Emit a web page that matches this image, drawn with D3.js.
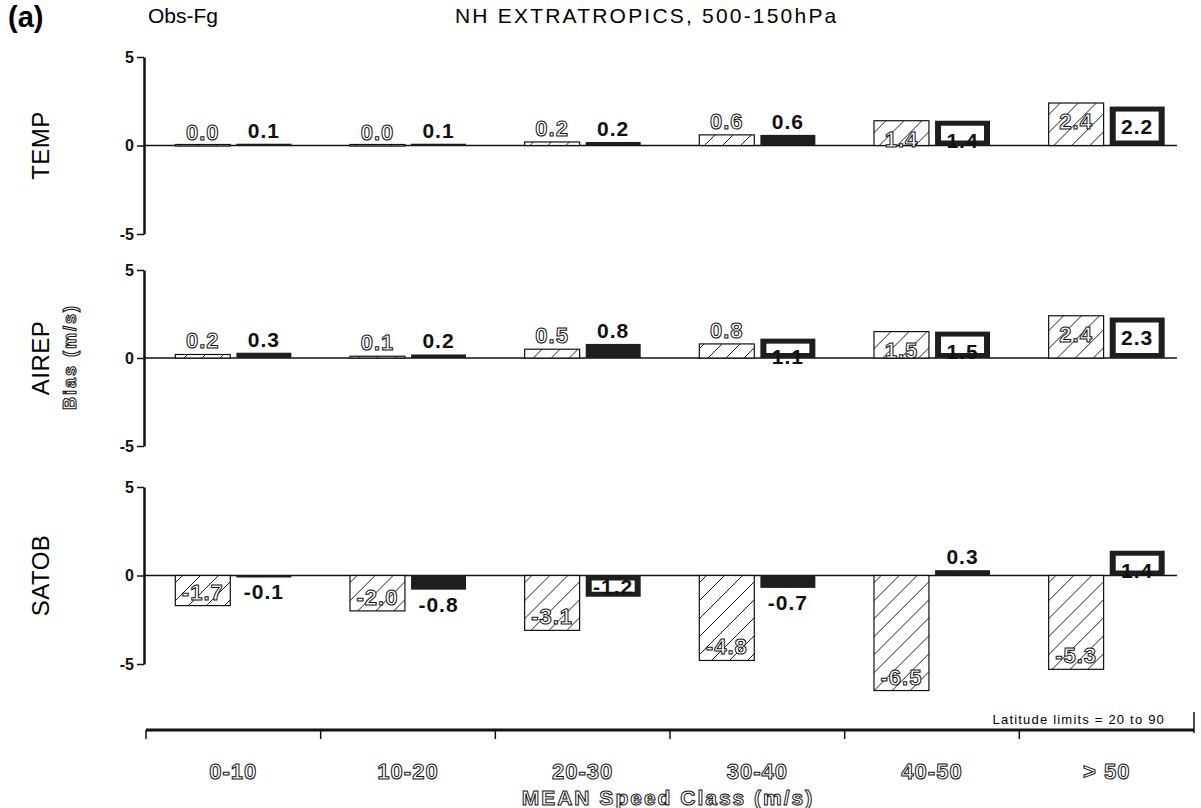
<!DOCTYPE html>
<html>
<head>
<meta charset="utf-8">
<script src="https://cdnjs.cloudflare.com/ajax/libs/d3/7.8.5/d3.min.js"></script>
<style>
    body { margin: 0; background: #fff; }
    text { font-family: 'Liberation Sans', Arial, sans-serif; }
    .hollow { fill: #fff; stroke: #111; stroke-width: 1; font-weight: bold; }
    .axis path, .axis line { stroke: #111; }
</style>
</head>
<body>
<div id="chart"></div>
<script>
// speed classes along the bottom
let categories = ['0-10', '10-20', '20-30', '30-40', '40-50', '> 50']
let panels = ['TEMP', 'AIREP', 'SATOB']

// hatched bars (first experiment) and dark bars (second experiment)
let tempHatched = [0.0, 0.0, 0.2, 0.6, 1.4, 2.4]
let tempDark = [0.1, 0.1, 0.2, 0.6, 1.4, 2.2]
let airepHatched = [0.2, 0.1, 0.5, 0.8, 1.5, 2.4]
let airepDark = [0.3, 0.2, 0.8, 1.1, 1.5, 2.3]
let satobHatched = [-1.7, -2.0, -3.1, -4.8, -6.5, -5.3]
let satobDark = [-0.1, -0.8, -1.2, -0.7, 0.3, 1.4]

let yTicks = [-5, 0, 5]

let hatchedSeries = [tempHatched, airepHatched, satobHatched]
let darkSeries = [tempDark, airepDark, satobDark]

let svgWidth = 1201
let svgHeight = 808
let axisX = 144
let zeroEnd = 1177
let panelY = [[57, 234], [270, 446], [487, 664]]
let bottomY = 730

let svg = d3.select('#chart')
    .append('svg')
    .attr('width', svgWidth)
    .attr('height', svgHeight)

let defs = svg.append('defs')
let pat = defs.append('pattern')
    .attr('id', 'hatch')
    .attr('patternUnits', 'userSpaceOnUse')
    .attr('width', 18)
    .attr('height', 18)
pat.append('rect').attr('width', 18).attr('height', 18).attr('fill', '#fff')
pat.append('path')
    .attr('d', 'M0,18 L18,0 M-4,4 L4,-4 M14,22 L22,14')
    .attr('stroke', '#222')
    .attr('stroke-width', 1)

let x = d3.scaleBand()
    .domain(categories)
    .range([146, 1194])

let sub = d3.scaleBand()
    .domain(['h', 'd'])
    .range([0, x.bandwidth()])
    .paddingInner(0.1)
    .paddingOuter(0.48)

// header
svg.append('text').attr('x', 8).attr('y', 27)
    .attr('font-size', 29).attr('font-weight', 'bold').text('(a)')
svg.append('text').attr('x', 148).attr('y', 23)
    .attr('font-size', 21).text('Obs-Fg')
svg.append('text').attr('x', 455).attr('y', 23)
    .attr('font-size', 21).attr('letter-spacing', 2.2)
    .text('NH EXTRATROPICS, 500-150hPa')

svg.append('text')
    .attr('class', 'hollow')
    .attr('transform', 'translate(76, 357) rotate(-90)')
    .attr('text-anchor', 'middle')
    .attr('font-size', 18)
    .attr('letter-spacing', 2)
    .text('Bias (m/s)')

panels.forEach((name, p) => {

    let y = d3.scaleLinear()
        .domain([-5, 5])
        .range([panelY[p][1], panelY[p][0]])

    let g = svg.append('g')

    g.append('text')
        .attr('transform', `translate(49, ${y(0)}) rotate(-90)`)
        .attr('text-anchor', 'middle')
        .attr('font-size', 24)
        .attr('letter-spacing', 0.5)
        .text(name)

    let yAxis = g.append('g')
        .classed('axis', true)
        .attr('transform', `translate(${axisX}, 0)`)
        .call(d3.axisLeft(y).tickValues(yTicks).tickSize(7).tickSizeOuter(0).tickFormat(d => String(d)))
    yAxis.select('.domain').attr('stroke-width', 2.5)
    yAxis.selectAll('.tick line').attr('stroke-width', 1.5)
    yAxis.selectAll('.tick text')
        .attr('font-size', 16)
        .attr('font-weight', 'bold')
        .attr('fill', '#111')
        .attr('font-family', "'Liberation Sans', Arial, sans-serif")

    g.append('line')
        .attr('x1', axisX).attr('x2', zeroEnd)
        .attr('y1', y(0)).attr('y2', y(0))
        .attr('stroke', '#111').attr('stroke-width', 1.5)

    let rows = categories.map((c, i) => ({ cat: c, h: hatchedSeries[p][i], d: darkSeries[p][i] }))

    let grp = g.selectAll('.grp')
        .data(rows)
        .enter()
        .append('g')
        .attr('transform', d => `translate(${x(d.cat)}, 0)`)

    // hatched bars
    grp.append('rect')
        .attr('x', sub('h'))
        .attr('width', sub.bandwidth())
        .attr('y', d => Math.min(y(d.h), y(0)) - (d.h === 0 ? 1 : 0))
        .attr('height', d => Math.max(Math.abs(y(d.h) - y(0)), 1.5))
        .attr('fill', 'url(#hatch)')
        .attr('stroke', '#111')
        .attr('stroke-width', 1.2)

    grp.append('text')
        .attr('class', 'hollow')
        .attr('x', sub('h') + sub.bandwidth() / 2)
        .attr('y', d => {
            if (d.h < 0) return y(d.h) - 6
            if (d.h >= 1.3) return Math.min(y(0) + 4, y(d.h) + 26)
            return y(d.h) - 6
        })
        .attr('text-anchor', 'middle')
        .attr('font-size', 22)
        .attr('letter-spacing', 1)
        .text(d => d.h.toFixed(1))

    // dark bars
    grp.append('rect')
        .attr('x', sub('d'))
        .attr('width', sub.bandwidth())
        .attr('y', d => Math.min(y(d.d), y(0)))
        .attr('height', d => Math.max(Math.abs(y(d.d) - y(0)), 2))
        .attr('fill', '#1e1e1e')

    let boxed = grp.filter(d => Math.abs(d.d) >= 1)
    boxed.append('rect')
        .attr('x', sub('d') + 6)
        .attr('width', sub.bandwidth() - 12)
        .attr('y', d => Math.min(y(d.d), y(0)) + 5)
        .attr('height', d => Math.abs(y(d.d) - y(0)) - 10)
        .attr('fill', '#fff')

    grp.append('text')
        .attr('x', sub('d') + sub.bandwidth() / 2)
        .attr('y', d => {
            if (Math.abs(d.d) >= 1) {
                return d.d > 0 ? Math.min(y(0) + 6, y(d.d) + 27) : y(d.d) - 3
            }
            return d.d >= 0 ? y(d.d) - 6 : y(d.d) + 22
        })
        .attr('text-anchor', 'middle')
        .attr('font-size', 21)
        .attr('font-weight', 'bold')
        .attr('letter-spacing', 1)
        .attr('fill', '#111')
        .text(d => d.d.toFixed(1))
})

// bottom speed class axis
let bottom = svg.append('g')

bottom.append('line')
    .attr('x1', x.range()[0]).attr('x2', x.range()[1])
    .attr('y1', bottomY).attr('y2', bottomY)
    .attr('stroke', '#111').attr('stroke-width', 3)

bottom.selectAll('.btick')
    .data(categories)
    .enter()
    .append('line')
    .attr('x1', d => x(d)).attr('x2', d => x(d))
    .attr('y1', bottomY).attr('y2', bottomY + 9)
    .attr('stroke', '#111').attr('stroke-width', 1.5)

bottom.append('line')
    .attr('x1', x.range()[1]).attr('x2', x.range()[1])
    .attr('y1', bottomY - 18).attr('y2', bottomY + 3)
    .attr('stroke', '#111').attr('stroke-width', 1.5)

bottom.selectAll('.blabel')
    .data(categories)
    .enter()
    .append('text')
    .attr('class', 'hollow')
    .attr('x', d => x(d) + x.bandwidth() / 2)
    .attr('y', 779)
    .attr('text-anchor', 'middle')
    .attr('font-size', 22)
    .attr('letter-spacing', 1)
    .text(d => d)

bottom.append('text')
    .attr('class', 'hollow')
    .attr('x', 668)
    .attr('y', 805)
    .attr('text-anchor', 'middle')
    .attr('font-size', 21)
    .attr('letter-spacing', 2)
    .text('MEAN Speed Class (m/s)')

bottom.append('text')
    .attr('x', 1165)
    .attr('y', 724)
    .attr('text-anchor', 'end')
    .attr('font-size', 13)
    .attr('letter-spacing', 1.2)
    .text('Latitude limits = 20 to 90')
</script>
</body>
</html>
